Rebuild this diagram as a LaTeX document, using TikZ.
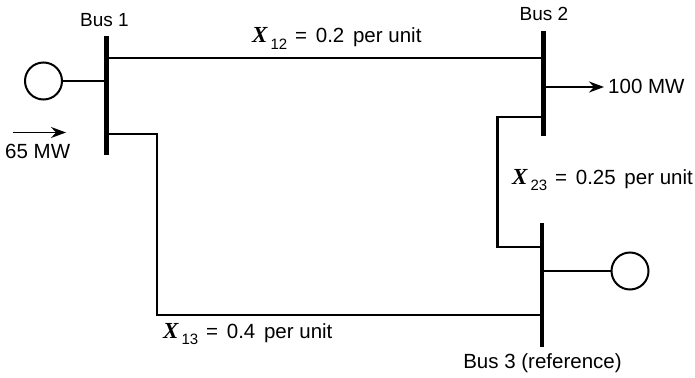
\documentclass[tikz,border=0pt]{standalone}
\usepackage{fontspec}
\setmainfont{Liberation Sans}
\newfontfamily\varfont{Liberation Serif}
\usepackage{tikz}
\usetikzlibrary{arrows.meta}
\newcommand{\reac}[1]{{\varfont\itshape\bfseries\fontsize{23}{26}\selectfont X}\hspace{3pt}\raisebox{-6.5pt}{\fontsize{15}{17}\selectfont #1}\hspace{8pt}}
\newcommand{\gapsp}{\hspace{3pt}}
\tikzset{
  busbar/.style={line width=4.5pt},
  linewire/.style={line width=2.8pt},
  gen/.style={circle,draw,line width=2pt,minimum size=37pt,inner sep=0pt},
  lab/.style={font=\fontsize{20.5}{23}\selectfont,inner sep=0pt},
  buslab/.style={font=\fontsize{19}{21}\selectfont,inner sep=0pt},
  reaclab/.style={lab,anchor=base west}
}
\begin{document}
\begin{tikzpicture}[x=1pt,y=-1pt]
  \useasboundingbox (0,0) rectangle (695,377);
  % buses
  \coordinate (b1t) at (106.5,36);
  \coordinate (b1b) at (106.5,155);
  \coordinate (b2t) at (543.5,31);
  \coordinate (b2b) at (543.5,136);
  \coordinate (b3t) at (542,223);
  \coordinate (b3b) at (542,347);
  \draw[busbar] (b1t) -- (b1b);
  \draw[busbar] (b2t) -- (b2b);
  \draw[busbar] (b3t) -- (b3b);
  % generators
  \node[gen] (g1) at (43.5,81) {};
  \node[gen] (g3) at (630,271) {};
  \coordinate (g1b) at (106.5,81);
  \coordinate (g3b) at (542,271);
  \draw[linewire] (g1) -- (g1b);
  \draw[linewire] (g3b) -- (g3);
  % lines
  \coordinate (l12a) at (106.5,58);
  \coordinate (l12b) at (543.5,58);
  \draw[linewire] (l12a) -- (l12b);
  \coordinate (l13a) at (106.5,134);
  \coordinate (l13b) at (157,134);
  \coordinate (l13c) at (157,315);
  \coordinate (l13d) at (542,315);
  \draw[linewire] (l13a) -- (l13b) -- (l13c) -- (l13d);
  \coordinate (l23a) at (543.5,117);
  \coordinate (l23b) at (497.5,117);
  \coordinate (l23c) at (497.5,247);
  \coordinate (l23d) at (542,247);
  \draw[linewire] (l23a) -- (l23b) -- (l23c) -- (l23d);
  % flows
  \coordinate (load) at (543.5,87);
  \coordinate (loadtip) at (604,87);
  \draw[linewire,-{Stealth[length=15pt,width=11pt,inset=5pt]}] (load) -- (loadtip);
  \coordinate (ina) at (13,132.5);
  \coordinate (inb) at (66,132.5);
  \draw[line width=1.8pt,-{Stealth[length=15pt,width=11pt,inset=5pt]}] (ina) -- (inb);
  % labels
  \node[buslab] (n1) at (104.5,20) {Bus 1};
  \node[buslab] (n2) at (544,14) {Bus 2};
  \node[lab] (n3) at (542.5,363) {Bus 3 (reference)};
  \node[lab,anchor=west] (p1) at (5,151) {65 MW};
  \node[lab,anchor=west] (pl) at (608,86) {100 MW};
  \node[reaclab] (x12) at (252,43) {\reac{12}= \gapsp 0.2 \gapsp per unit};
  \node[reaclab] (x23) at (512,184) {\reac{23}= \gapsp 0.25 \gapsp per unit};
  \node[reaclab] (x13) at (163,338) {\reac{13}= \gapsp 0.4 \gapsp per unit};
\end{tikzpicture}
\end{document}
